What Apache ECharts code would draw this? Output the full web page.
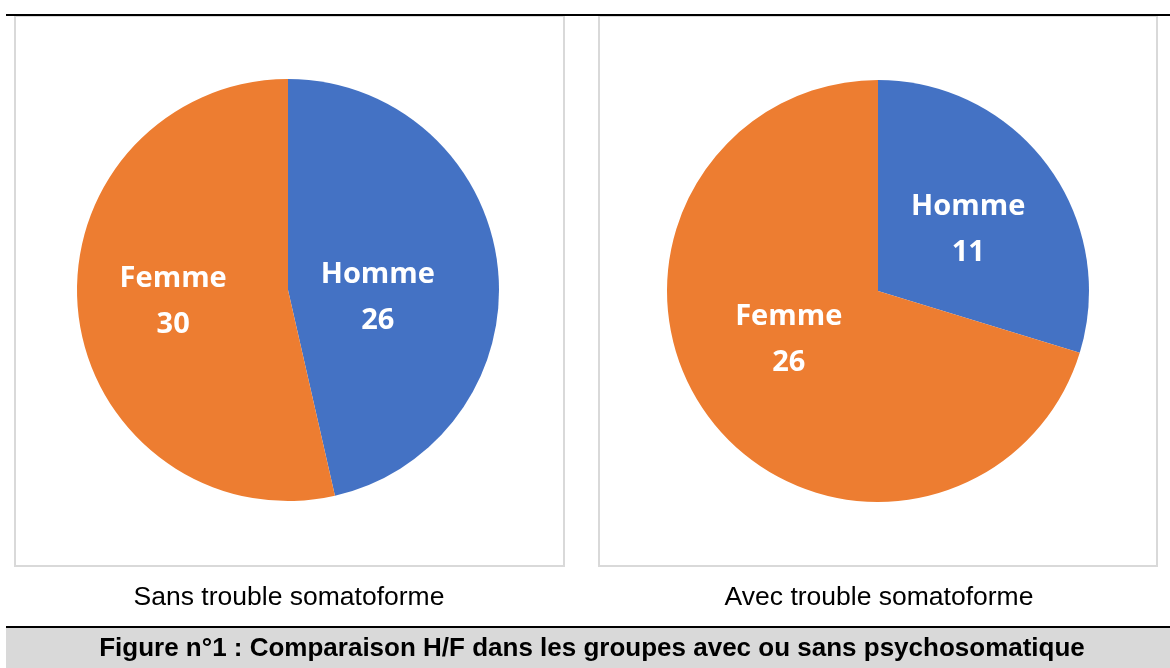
<!DOCTYPE html>
<html>
<head>
<meta charset="utf-8">
<script src="https://cdn.jsdelivr.net/npm/echarts@6/dist/echarts.min.js"></script>
<style>
  html, body { margin: 0; padding: 0; background: #fff; }
  #chart { width: 1170px; height: 668px; }
</style>
</head>
<body>
<div id="chart"></div>
<script>
// data
const categories = ['Homme', 'Femme']
const sansValues = [26, 30]
const avecValues = [11, 26]
const captions = ['Sans trouble somatoforme', 'Avec trouble somatoforme']
const figureTitle = 'Figure n°1 : Comparaison H/F dans les groupes avec ou sans psychosomatique'

const colors = ['#4472C4', '#ED7D31']
// small nudges so the labels sit where Excel put them
const sansLabelOffsets = [[-18, 20], [-7, 0]]
const avecLabelOffsets = [[3, 3], [-2, -16]]

const chart = echarts.init(document.getElementById('chart'))

function pieSeries(name, values, center, offsets) {
  return {
    name: name,
    type: 'pie',
    center: center,
    radius: 211,
    startAngle: 90,
    clockwise: true,
    animation: false,
    silent: true,
    itemStyle: { borderWidth: 0 },
    label: {
      show: true,
      position: 'inside',
      formatter: '{b}\n{c}',
      color: '#fff',
      fontFamily: 'Open Sans',
      fontWeight: 'bold',
      fontSize: 29,
      lineHeight: 46,
    },
    labelLine: { show: false },
    data: categories.map((c, i) => ({
      name: c,
      value: values[i],
      label: { offset: offsets[i] },
    })),
  }
}

function caption(text, x, y, bold) {
  return {
    type: 'text',
    x: x,
    y: y,
    style: {
      text: text,
      align: 'center',
      verticalAlign: 'middle',
      fill: '#000',
      fontFamily: 'Liberation Sans',
      fontWeight: bold ? 'bold' : 'normal',
      fontSize: bold ? 26 : 26.5,
    },
    z: 20,
  }
}

const option = {
  color: colors,
  graphic: [
    // top rule
    { type: 'rect', shape: { x: 6, y: 14, width: 1164, height: 2 }, style: { fill: '#000' }, z: 10 },
    // panel frames
    { type: 'rect', shape: { x: 15, y: 16, width: 549, height: 550 }, style: { fill: 'none', stroke: '#d9d9d9', lineWidth: 2 } },
    { type: 'rect', shape: { x: 599, y: 16, width: 558, height: 550 }, style: { fill: 'none', stroke: '#d9d9d9', lineWidth: 2 } },
    // bottom caption band
    { type: 'rect', shape: { x: 6, y: 626, width: 1164, height: 42 }, style: { fill: '#d9d9d9' }, z: -1 },
    { type: 'rect', shape: { x: 6, y: 626, width: 1164, height: 2 }, style: { fill: '#000' } },
    caption(captions[0], 289, 598, false),
    caption(captions[1], 879, 598, false),
    caption(figureTitle, 592, 649, true),
  ],
  series: [
    pieSeries('Sans trouble somatoforme', sansValues, [288, 290], sansLabelOffsets),
    pieSeries('Avec trouble somatoforme', avecValues, [878, 291], avecLabelOffsets),
  ],
}

chart.setOption(option)
</script>
</body>
</html>
